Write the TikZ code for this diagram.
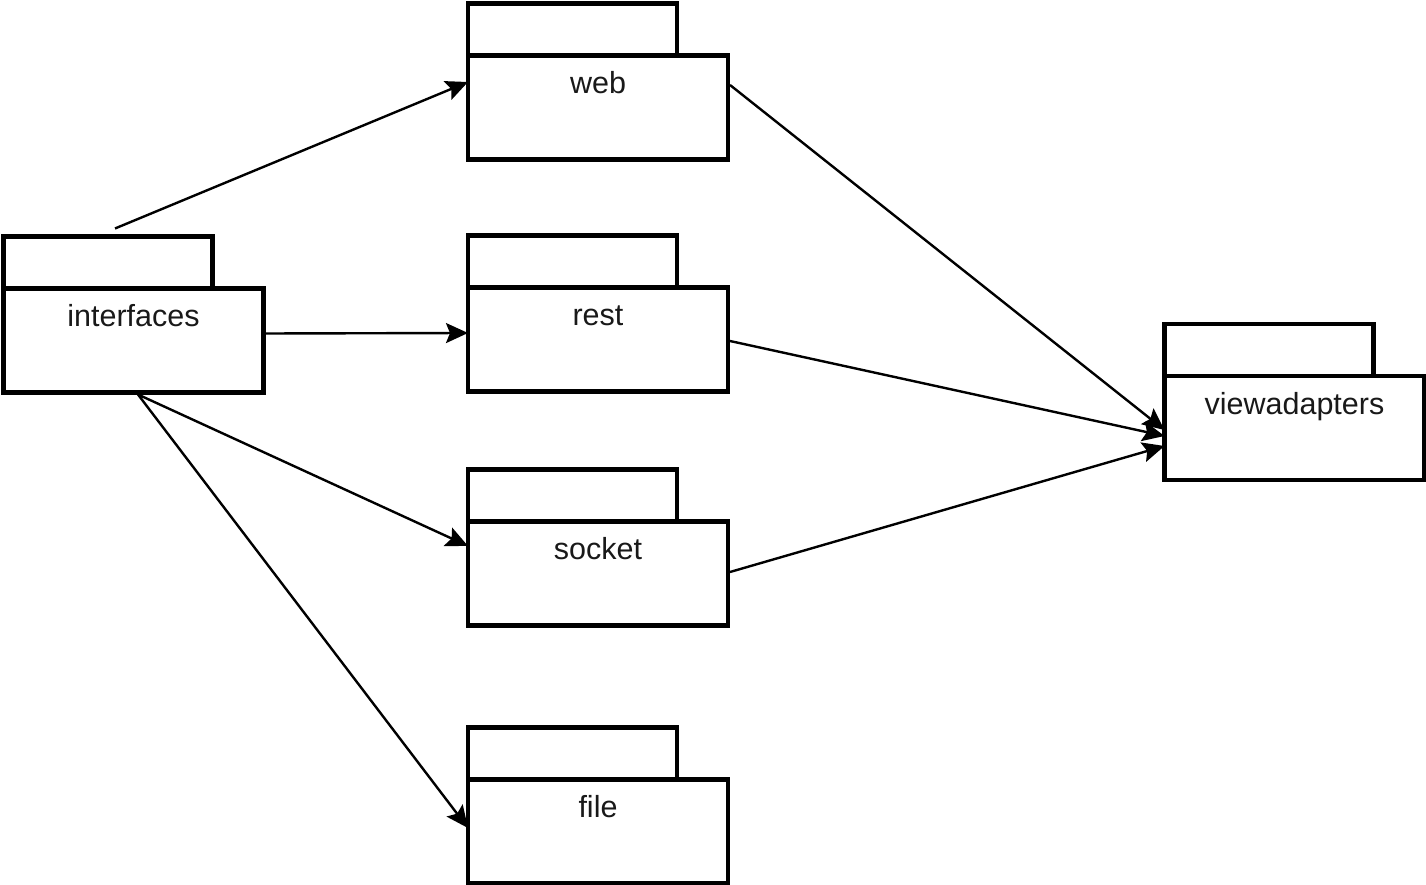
\documentclass[tikz,border=0pt]{standalone}
\usepackage{fontspec}
\setmainfont{Liberation Sans}
\usetikzlibrary{arrows.meta, calc}

\begin{document}
\begin{tikzpicture}[x=1pt, y=-1pt,
    pkg/.style={draw, line width=4.5pt, minimum width=260pt, minimum height=104pt, inner sep=0pt, outer sep=0pt},
    pkgtab/.style={line width=4.5pt},
    pkgname/.style={font=\fontsize{30.5}{36}\selectfont, text=black!90, anchor=base, inner sep=0pt},
    dep/.style={line width=2.4pt, -{Stealth[length=22pt, width=20pt, inset=4pt]}}]
    \useasboundingbox (0,0) rectangle (1426,885);

    % Packages
    \foreach \n/\x/\y in {interfaces/133.5/340.5, web/598/107.5, rest/598/339.5, socket/598/573.5, file/598/831.5, viewadapters/1294.5/428} {
        \node[pkg] (\n) at (\x,\y) {};
        \draw[pkgtab] (\n.north west) rectangle ++(209,-52);
        \node[pkgname] (\n-name) at ($(\n.north)+(0,38)$) {\n};
    }

    % interfaces -> web, rest, socket, file
    \coordinate (ifc-top) at ($(interfaces.north)+(-18.5,-60)$);
    \coordinate (ifc-bot) at ($(interfaces.south)+(4.5,2)$);
    \draw[dep] (ifc-top) -- ($(web.west)+(0,-25.5)$);
    \draw[dep] ($(interfaces.east)+(0,-7)$) -- ($(rest.west)+(0,-6.5)$);
    \draw[dep] (ifc-bot) -- ($(socket.west)+(0,-27.5)$);
    \draw[dep] (ifc-bot) -- ($(file.west)+(0,-3.5)$);

    % web, rest, socket -> viewadapters
    \draw[dep] ($(web.east)+(2,-22.5)$) -- ($(viewadapters.west)+(0,2)$);
    \draw[dep] ($(rest.east)+(2,1.5)$) -- ($(viewadapters.west)+(0,8)$);
    \draw[dep] ($(socket.east)+(2,-1.5)$) -- ($(viewadapters.west)+(0,18)$);
\end{tikzpicture}
\end{document}
